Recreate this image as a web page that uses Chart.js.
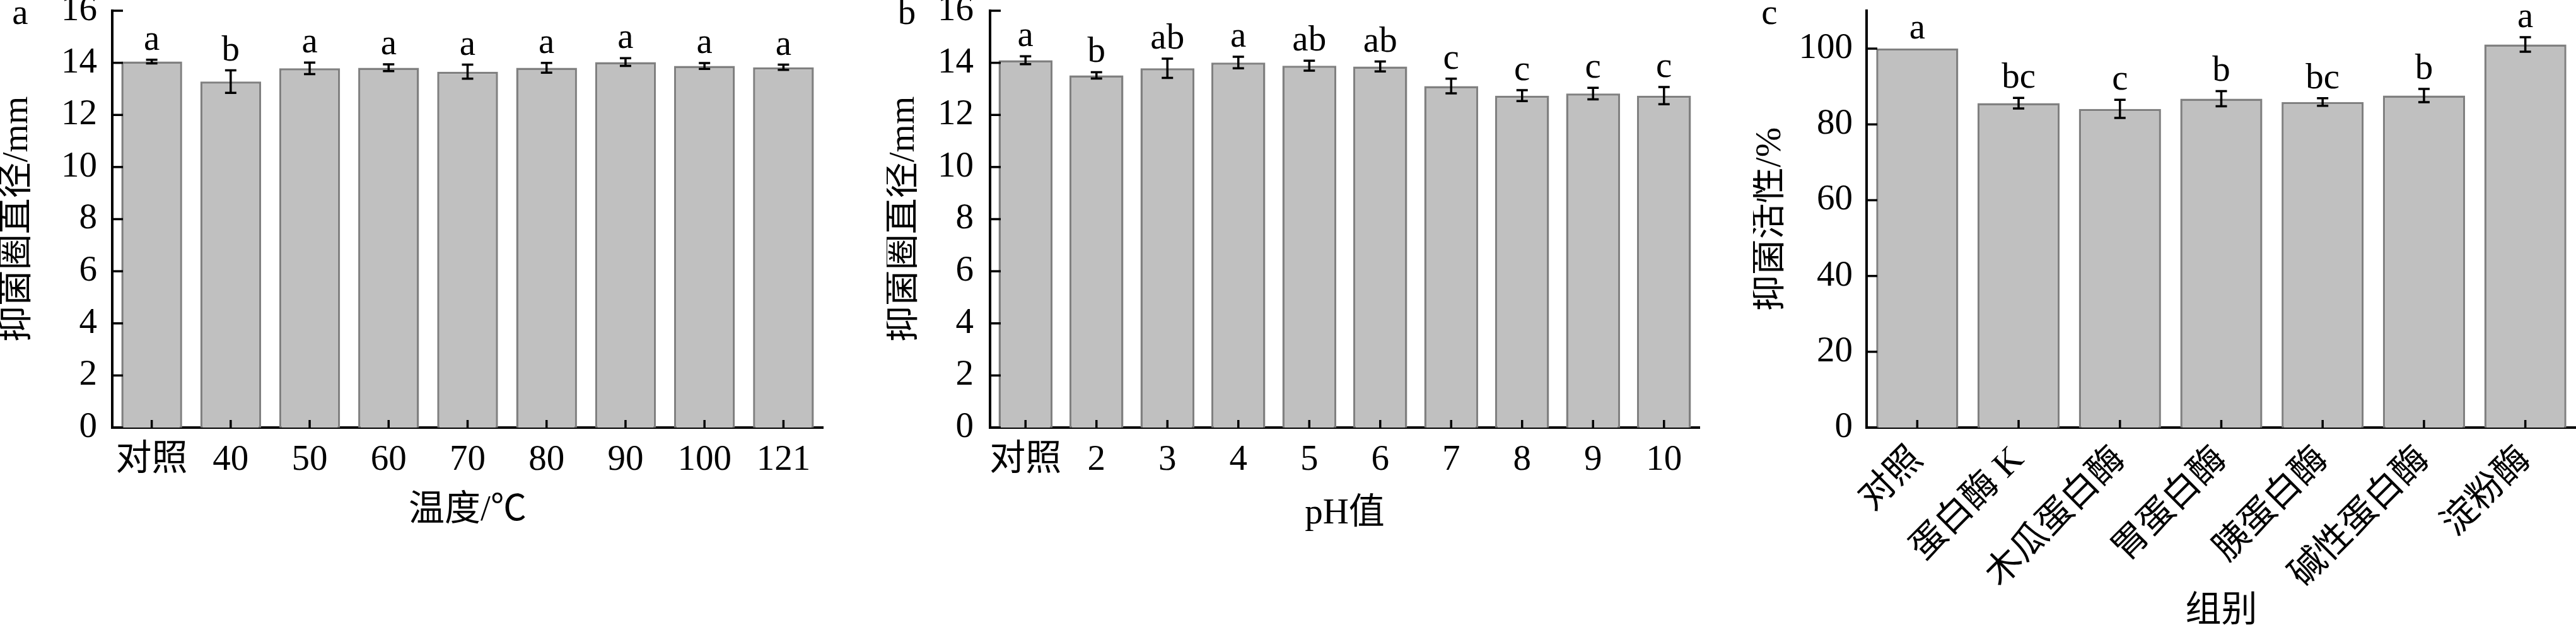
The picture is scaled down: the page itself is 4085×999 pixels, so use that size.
<!DOCTYPE html>
<html>
<head>
<meta charset="utf-8">
<script src="https://cdn.jsdelivr.net/npm/chart.js@4.4.1/dist/chart.umd.min.js"></script>
<style>
    html, body { margin: 0; padding: 0; background: #fff; }
    body { width: 4085px; height: 999px; position: relative; overflow: hidden; }
    .panel { position: absolute; top: 0; }
</style>
</head>
<body>
<div class="panel" style="left:0px"><canvas id="chartA" width="1380" height="999"></canvas></div>
<div class="panel" style="left:1406px"><canvas id="chartB" width="1354" height="999"></canvas></div>
<div class="panel" style="left:2780px"><canvas id="chartC" width="1305" height="999"></canvas></div>
<script>
// Panel a - temperature
let tempLabels = ["对照", "40", "50", "60", "70", "80", "90", "100", "121"];
let tempValues = [14.05, 13.28, 13.79, 13.81, 13.66, 13.81, 14.03, 13.88, 13.83];
let tempErrors = [0.07, 0.43, 0.22, 0.13, 0.27, 0.19, 0.15, 0.11, 0.10];
let tempLetters = ["a", "b", "a", "a", "a", "a", "a", "a", "a"];

// Panel b - pH
let phLabels = ["对照", "2", "3", "4", "5", "6", "7", "8", "9", "10"];
let phValues = [14.10, 13.52, 13.79, 14.01, 13.89, 13.86, 13.11, 12.74, 12.82, 12.74];
let phErrors = [0.15, 0.12, 0.37, 0.22, 0.19, 0.19, 0.28, 0.21, 0.22, 0.33];
let phLetters = ["a", "b", "ab", "a", "ab", "ab", "c", "c", "c", "c"];

// Panel c - enzymes
let enzymeLabels = ["对照", "蛋白酶 K", "木瓜蛋白酶", "胃蛋白酶", "胰蛋白酶", "碱性蛋白酶", "淀粉酶"];
let enzymeValues = [100, 85.6, 84.1, 86.8, 85.9, 87.6, 101.1];
let enzymeErrors = [0, 1.4, 2.4, 2.0, 1.0, 1.75, 1.9];
let enzymeLetters = ["a", "bc", "c", "b", "bc", "b", "a"];

// Y tick values
let diameterTicks = [0, 2, 4, 6, 8, 10, 12, 14, 16];
let activityTicks = [0, 20, 40, 60, 80, 100];

let serif = '"Liberation Serif", "Noto Sans CJK SC", serif';
let fontSize = 57;
Chart.defaults.color = "#000";

// Draws inward ticks, error bars, significance letters and the panel letter
let makeOverlay = (panelName, panelX, errors, letters) => ({
    id: "overlay",
    afterDatasetsDraw(chart) {
        const ctx = chart.ctx;
        const area = chart.chartArea;
        const xScale = chart.scales.x;
        const yScale = chart.scales.y;
        const values = chart.data.datasets[0].data;
        ctx.save();
        ctx.strokeStyle = "#000";
        ctx.lineWidth = 3.5;

        yScale.ticks.forEach(t => {
            let py = yScale.getPixelForValue(t.value);
            ctx.beginPath();
            ctx.moveTo(area.left, py);
            ctx.lineTo(area.left + 17, py);
            ctx.stroke();
        });

        values.forEach((v, i) => {
            let px = xScale.getPixelForValue(i);
            ctx.beginPath();
            ctx.moveTo(px, area.bottom);
            ctx.lineTo(px, area.bottom - 12);
            ctx.stroke();
        });

        ctx.fillStyle = "#000";
        ctx.font = fontSize + "px " + serif;
        ctx.textAlign = "center";
        ctx.textBaseline = "alphabetic";
        values.forEach((v, i) => {
            let px = xScale.getPixelForValue(i);
            let ty = yScale.getPixelForValue(v + errors[i]);
            let by = yScale.getPixelForValue(v - errors[i]);
            if (errors[i] > 0) {
                ctx.beginPath();
                ctx.moveTo(px, ty);
                ctx.lineTo(px, by);
                ctx.moveTo(px - 9, ty);
                ctx.lineTo(px + 9, ty);
                ctx.moveTo(px - 9, by);
                ctx.lineTo(px + 9, by);
                ctx.stroke();
            }
            ctx.fillText(letters[i], px, ty - 16);
        });

        ctx.fillText(panelName, panelX, 38);
        ctx.restore();
    }
});

let buildChart = (canvasId, cfg) => {
    const ctx = document.getElementById(canvasId).getContext("2d");
    return new Chart(ctx, {
        type: "bar",
        data: {
            labels: cfg.labels,
            datasets: [{
                data: cfg.values,
                backgroundColor: "#c0c0c0",
                borderColor: "#808080",
                borderWidth: 3.5,
                barPercentage: cfg.barPct,
                categoryPercentage: 1
            }]
        },
        options: {
            responsive: false,
            animation: false,
            events: [],
            layout: { padding: { top: 17, right: cfg.padRight, left: 0, bottom: 0 } },
            plugins: { legend: { display: false }, tooltip: { enabled: false } },
            scales: {
                x: {
                    grid: { display: false, drawTicks: false },
                    border: { display: true, color: "#000", width: 4 },
                    ticks: {
                        autoSkip: false,
                        maxRotation: cfg.rotation,
                        minRotation: cfg.rotation,
                        padding: 18,
                        font: { family: serif, size: fontSize }
                    },
                    title: {
                        display: true,
                        text: cfg.xTitle,
                        font: { family: serif, size: fontSize, lineHeight: 1 },
                        padding: { top: 0, bottom: cfg.xTitlePad }
                    },
                    afterFit: s => {
                        s.height = 999 - 678;
                        s.paddingLeft = 0;
                        s.paddingRight = 0;
                    }
                },
                y: {
                    min: 0,
                    max: cfg.yMax,
                    bounds: "data",
                    afterBuildTicks: s => { s.ticks = cfg.yTicks.map(v => ({ value: v })); },
                    grid: { display: false, drawTicks: false },
                    border: { display: true, color: "#000", width: 4 },
                    ticks: {
                        padding: cfg.tickPad,
                        font: { family: serif, size: fontSize }
                    },
                    title: {
                        display: true,
                        text: cfg.yTitle,
                        font: { family: serif, size: fontSize, lineHeight: 1 },
                        padding: { top: 0, bottom: 0 }
                    },
                    afterFit: s => {
                        s.width = cfg.yWidth;
                        s.paddingTop = 0;
                        s.paddingBottom = 0;
                    }
                }
            }
        },
        plugins: [makeOverlay(cfg.panelName, cfg.panelX, cfg.errors, cfg.letters)]
    });
};

buildChart("chartA", {
    labels: tempLabels, values: tempValues, errors: tempErrors, letters: tempLetters,
    yMax: 16, yTicks: diameterTicks, barPct: 0.77, padRight: 75, yWidth: 178,
    tickPad: 24, rotation: 0, xTitle: "温度/℃", xTitlePad: 160,
    yTitle: "抑菌圈直径/mm", panelName: "a", panelX: 32
});

buildChart("chartB", {
    labels: phLabels, values: phValues, errors: phErrors, letters: phLetters,
    yMax: 16, yTicks: diameterTicks, barPct: 0.76, padRight: 65, yWidth: 164,
    tickPad: 26, rotation: 0, xTitle: "pH值", xTitlePad: 155,
    yTitle: "抑菌圈直径/mm", panelName: "b", panelX: 32
});

buildChart("chartC", {
    labels: enzymeLabels, values: enzymeValues, errors: enzymeErrors, letters: enzymeLetters,
    yMax: 110, yTicks: activityTicks, barPct: 0.81, padRight: 0, yWidth: 180,
    tickPad: 22, rotation: 45, xTitle: "组别", xTitlePad: 0,
    yTitle: "抑菌活性/%", panelName: "c", panelX: 26
});
</script>
</body>
</html>
